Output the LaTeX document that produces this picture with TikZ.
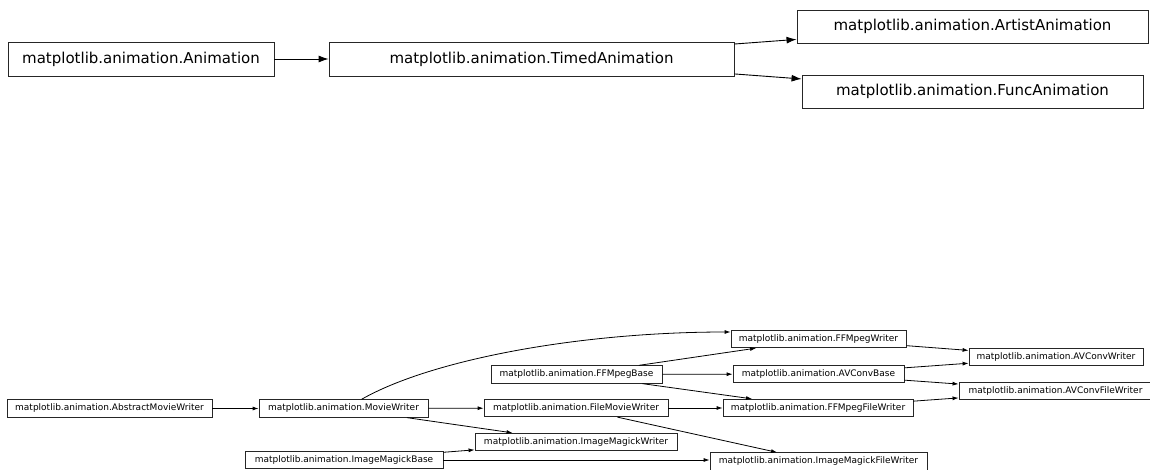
\documentclass[tikz,border=0pt]{standalone}
\usepackage{fontspec}
\setmainfont{DejaVu Sans}
\usetikzlibrary{arrows.meta}
\begin{document}
\begin{tikzpicture}[x=1pt,y=-1pt,
  big/.style={draw=black!85,line width=0.9pt,inner sep=0pt,minimum height=34pt,font=\fontsize{15}{16}\selectfont},
  small/.style={draw=black!85,line width=0.8pt,inner sep=0pt,minimum height=17.5pt,font=\fontsize{9}{10}\selectfont},
  bigarr/.style={line width=0.9pt,-{Latex[length=10pt,width=7pt]}},
  smallarr/.style={line width=0.8pt,-{Latex[length=6pt,width=4pt]}}]
\useasboundingbox (0,0) rectangle (1150,470);
% top
\node[big,minimum width=266pt] (anim) at (141,59) {matplotlib.animation.Animation};
\node[big,minimum width=405pt] (timed) at (531.5,59) {matplotlib.animation.TimedAnimation};
\node[big,minimum width=351pt,minimum height=33pt] (artist) at (972.5,26.5) {matplotlib.animation.ArtistAnimation};
\node[big,minimum width=341pt,minimum height=33pt] (func) at (972.5,91.5) {matplotlib.animation.FuncAnimation};
\draw[bigarr] (anim) -- (timed);
\draw[bigarr] (timed) -- (artist);
\draw[bigarr] (timed) -- (func);
% bottom
\node[small,minimum width=205pt] (amw) at (109.5,408.5) {matplotlib.animation.AbstractMovieWriter};
\node[small,minimum width=169pt] (mw) at (343.5,408.5) {matplotlib.animation.MovieWriter};
\node[small,minimum width=184pt] (fmw) at (576,408) {matplotlib.animation.FileMovieWriter};
\node[small,minimum width=171pt] (ffb) at (576.5,374.5) {matplotlib.animation.FFMpegBase};
\node[small,minimum width=202pt] (imw) at (576,442) {matplotlib.animation.ImageMagickWriter};
\node[small,minimum width=198pt] (imb) at (344,460) {matplotlib.animation.ImageMagickBase};
\node[small,minimum width=175pt] (ffw) at (818.5,339) {matplotlib.animation.FFMpegWriter};
\node[small,minimum width=171pt] (avb) at (818.5,374) {matplotlib.animation.AVConvBase};
\node[small,minimum width=190pt] (fffw) at (818,408) {matplotlib.animation.FFMpegFileWriter};
\node[small,minimum width=217pt] (imfw) at (818.5,461.5) {matplotlib.animation.ImageMagickFileWriter};
\node[small,minimum width=174pt] (avw) at (1056,357) {matplotlib.animation.AVConvWriter};
\node[small,minimum width=193pt] (avfw) at (1055.5,391) {matplotlib.animation.AVConvFileWriter};
\draw[smallarr] (amw) -- (mw);
\draw[smallarr] ([xshift=18pt]mw.north) .. controls +(70,-40) and +(-150,0) .. ([yshift=7pt]ffw.west);
\draw[smallarr] (mw) -- (fmw);
\draw[smallarr] (mw) -- (imw);
\draw[smallarr] (ffb) -- (ffw);
\draw[smallarr] (ffb) -- (avb);
\draw[smallarr] (ffb) -- (fffw);
\draw[smallarr] (fmw) -- (fffw);
\draw[smallarr] (fmw) -- (imfw);
\draw[smallarr] (imb) -- (imw);
\draw[smallarr] (imb.east) -- (imb.east -| imfw.west);
\draw[smallarr] (ffw) -- (avw);
\draw[smallarr] (avb) -- (avw);
\draw[smallarr] (avb) -- (avfw);
\draw[smallarr] (fffw) -- (avfw);
\end{tikzpicture}
\end{document}
